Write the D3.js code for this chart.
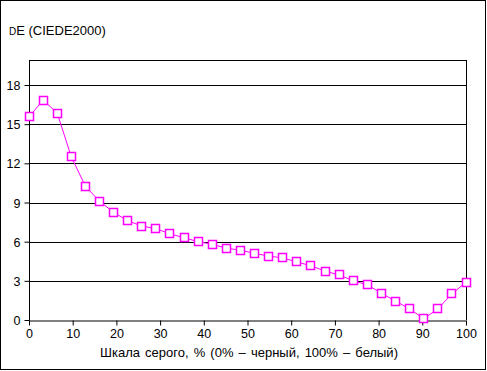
<!DOCTYPE html>
<html>
<head>
<meta charset="utf-8">
<script src="https://cdn.jsdelivr.net/npm/d3@7"></script>
<style>
  body { margin: 0; background: #fff; }
  svg { display: block; font-family: 'Liberation Sans', Arial, sans-serif; }
  .grid { stroke: #000; stroke-width: 1; shape-rendering: crispEdges; }
  .tick text { font-size: 12.5px; fill: #000; }
</style>
</head>
<body>
<div id="vis"></div>
<script>
'use strict';

//data: grey level steps (32 points, 0..100 %) and dE values
var steps = d3.range(32);
var greyLevels = steps.map(function (i) { return i * 100 / 31; });
var deValues = [15.55, 16.85, 15.85, 12.5, 10.25, 9.1, 8.25, 7.6, 7.2, 7.0,
    6.6, 6.3, 6.0, 5.8, 5.5, 5.35, 5.1, 4.9, 4.75, 4.45,
    4.15, 3.75, 3.45, 3.0, 2.7, 2.05, 1.45, 0.85, 0.1, 0.85,
    2.0, 2.9];
var xTicks = [0, 10, 20, 30, 40, 50, 60, 70, 80, 90, 100];
var yTicks = [0, 3, 6, 9, 12, 15, 18];

//layout
var width = 487, height = 371;
var plot = { left: 29, right: 466, top: 60, bottom: 320 };

var x = d3.scaleLinear().domain([0, 100]).range([plot.left, plot.right]);
var y = d3.scaleLinear().domain([0, 18]).range([plot.bottom, 85]);

var svg = d3.select('#vis')
    .append('svg')
    .attr('width', width)
    .attr('height', height);

//outer frame
svg.append('rect')
    .attr('x', 0.5).attr('y', 0.5)
    .attr('width', width - 2).attr('height', height - 2)
    .attr('fill', '#fff')
    .attr('stroke', '#000');

//gridlines
svg.selectAll('.grid')
    .data(yTicks.filter(function (d) { return d > 0; }))
    .enter()
    .append('line')
    .attr('class', 'grid')
    .attr('x1', plot.left).attr('x2', plot.right)
    .attr('y1', function (d) { return Math.round(y(d)) + 0.5; })
    .attr('y2', function (d) { return Math.round(y(d)) + 0.5; });

//plot frame (top + right)
svg.append('path')
    .attr('d', 'M' + plot.left + ',' + (plot.top + 0.5) + 'H' + (plot.right + 0.5) + 'V' + plot.bottom)
    .attr('fill', 'none')
    .attr('stroke', '#000')
    .style('shape-rendering', 'crispEdges');

//axes
var xAxis = svg.append('g')
    .attr('transform', 'translate(0,' + (Math.round(y(0)) + 0.5) + ')')
    .call(d3.axisBottom(x).tickValues(xTicks).tickSize(5).tickPadding(4).tickSizeOuter(0));
var yAxis = svg.append('g')
    .attr('transform', 'translate(' + (plot.left + 0.5) + ',0)')
    .call(d3.axisLeft(y).tickValues(yTicks).tickSize(5).tickPadding(4).tickSizeOuter(0));
[xAxis, yAxis].forEach(function (g) {
    g.selectAll('path.domain').attr('stroke', '#000');
    g.selectAll('.tick line').attr('stroke', '#000');
    g.attr('font-family', null).attr('font-size', null);
});
yAxis.select('path.domain')
    .attr('d', 'M0,' + plot.top + 'V' + (Math.round(y(0)) + 0.5));
yAxis.selectAll('.tick text').attr('dy', '0.36em');

//line + markers
var pts = steps.map(function (i) { return [greyLevels[i], deValues[i]]; });
svg.append('path')
    .datum(pts)
    .attr('fill', 'none')
    .attr('stroke', '#ff00ff')
    .attr('stroke-width', 1)
    .attr('d', d3.line()
        .x(function (d) { return x(d[0]); })
        .y(function (d) { return y(d[1]); }));

var m = 9;
svg.selectAll('.marker')
    .data(pts)
    .enter()
    .append('rect')
    .attr('class', 'marker')
    .attr('x', function (d) { return Math.round(x(d[0]) - m / 2) + 0.5; })
    .attr('y', function (d) { return Math.round(y(d[1]) - m / 2) + 0.5; })
    .attr('width', m - 1).attr('height', m - 1)
    .attr('fill', '#fff')
    .attr('stroke', '#ff00ff')
    .attr('stroke-width', 1.5);

//titles
var title = svg.append('text')
    .attr('x', 9).attr('y', 35)
    .style('font-size', '13px');
title.append('tspan').style('font-size', '10px').text('D');
title.append('tspan').text('E (CIEDE2000)');

svg.append('text')
    .attr('x', 249).attr('y', 357)
    .attr('text-anchor', 'middle')
    .style('font-size', '13px')
    .style('word-spacing', '1.5px')
    .text('Шкала серого, % (0% – черный, 100% – белый)');
</script>
</body>
</html>
